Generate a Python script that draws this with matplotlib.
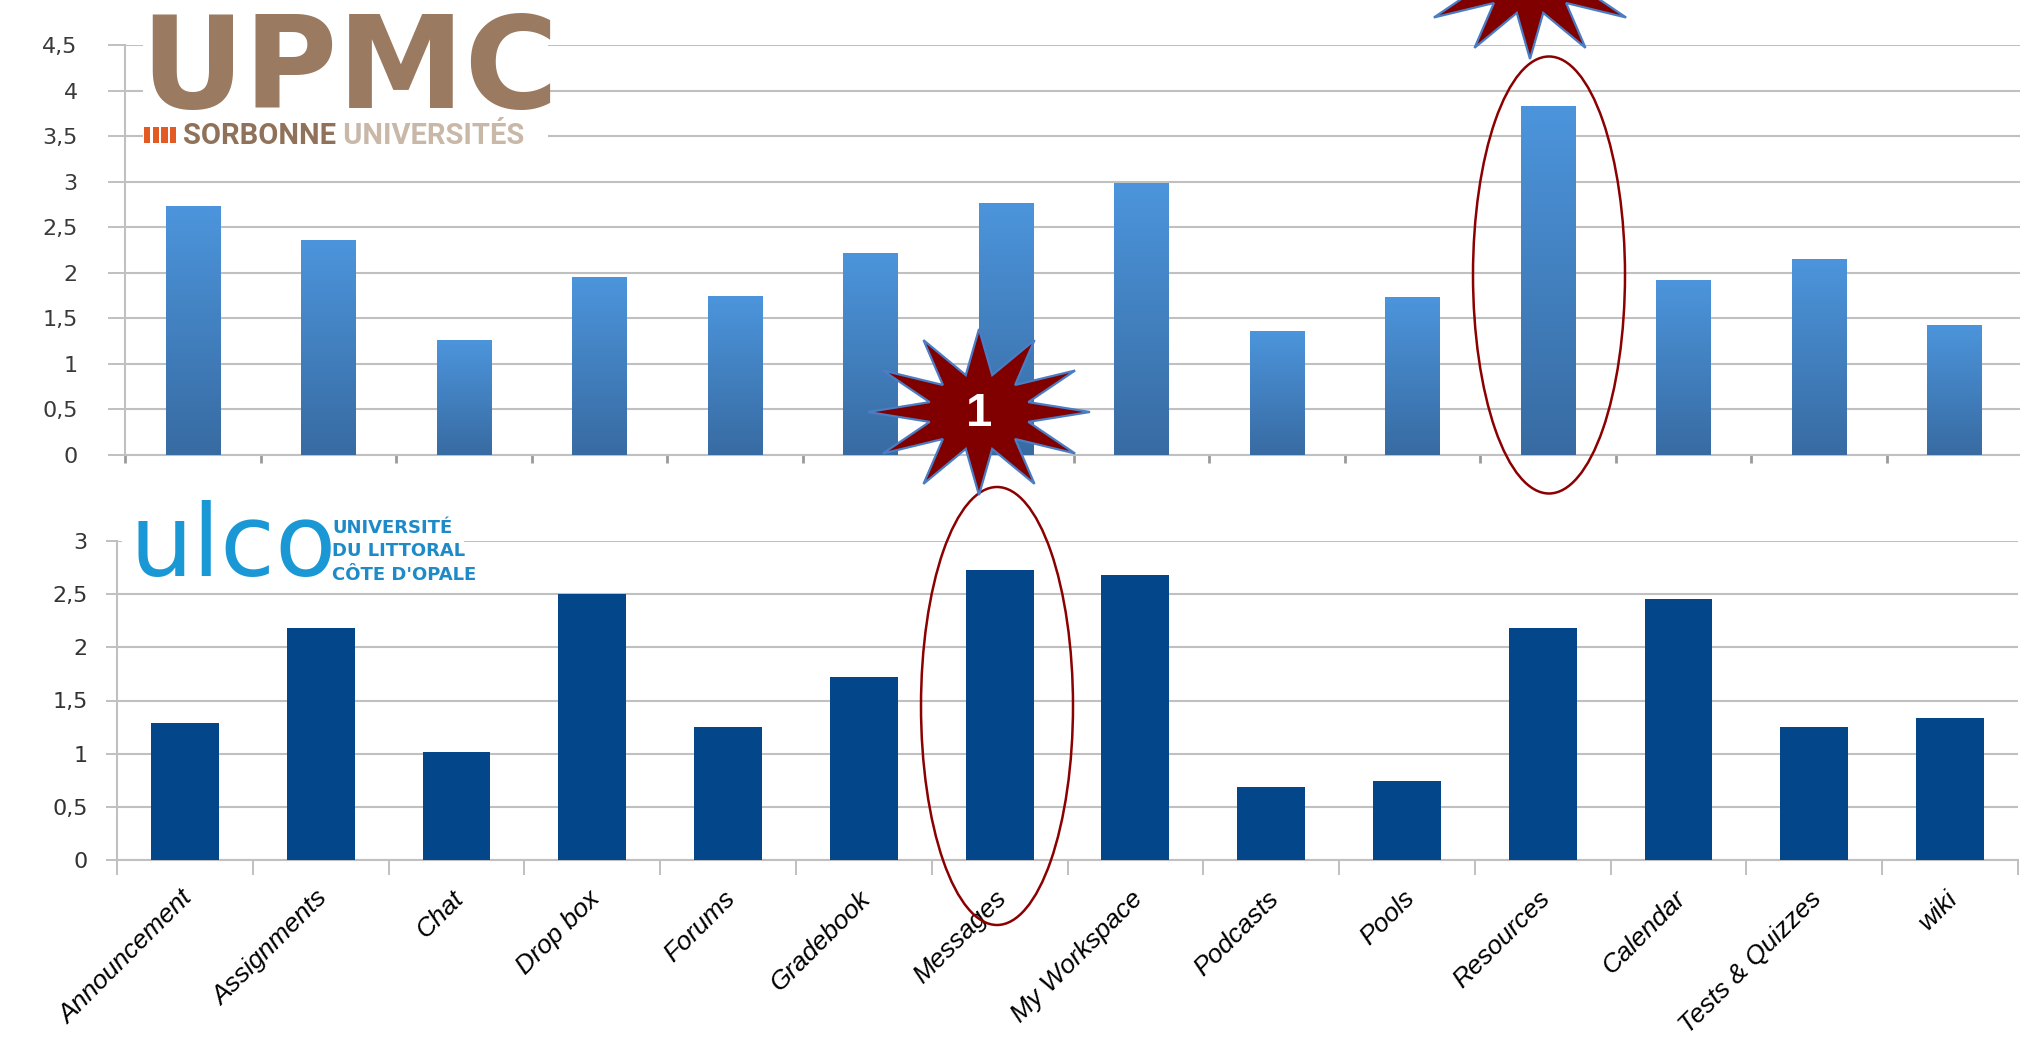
import numpy as np
import matplotlib
matplotlib.use('Agg')
import matplotlib.pyplot as plt
from matplotlib.patches import Ellipse, Polygon, Rectangle
from matplotlib.colors import LinearSegmentedColormap
import matplotlib.transforms as mtransforms

# ---------------- data ----------------
categories = ['Announcement', 'Assignments', 'Chat', 'Drop box', 'Forums', 'Gradebook',
              'Messages', 'My Workspace', 'Podcasts', 'Pools', 'Resources', 'Calendar',
              'Tests & Quizzes', 'wiki']
upmc_values = [2.73, 2.36, 1.26, 1.95, 1.74, 2.22, 2.77, 2.98, 1.36, 1.73, 3.83, 1.92, 2.15, 1.43]
ulco_values = [1.29, 2.18, 1.02, 2.50, 1.25, 1.72, 2.73, 2.68, 0.69, 0.74, 2.18, 2.45, 1.25, 1.34]
upmc_yticks = [0, 0.5, 1, 1.5, 2, 2.5, 3, 3.5, 4, 4.5]
upmc_ytick_labels = ['0', '0,5', '1', '1,5', '2', '2,5', '3', '3,5', '4', '4,5']
ulco_yticks = [0, 0.5, 1, 1.5, 2, 2.5, 3]
ulco_ytick_labels = ['0', '0,5', '1', '1,5', '2', '2,5', '3']

W, H = 2020, 1037
fig = plt.figure(figsize=(W / 100, H / 100), dpi=100)
fig.patch.set_facecolor('white')


def px_axes(l, r, top, bottom):
    return fig.add_axes([l / W, 1 - bottom / H, (r - l) / W, (bottom - top) / H])


GRID = '#c0c0c0'
x = np.arange(len(categories))

# ---------------- top chart (UPMC) ----------------
ax1 = px_axes(125, 2022, 45, 455)
cmap = LinearSegmentedColormap.from_list('g', ['#386ba2', '#4c95dc'])
grad = np.linspace(0, 1, 256).reshape(-1, 1)
bars1 = ax1.bar(x, upmc_values, width=0.4, color='#4281c6', zorder=3)
for b in bars1:
    im = ax1.imshow(grad, extent=(b.get_x(), b.get_x() + b.get_width(), 0, b.get_height()),
                    origin='lower', cmap=cmap, aspect='auto', zorder=4)
    im.set_clip_path(b)
ax1.set_xlim(-0.5, len(categories) - 0.5)
ax1.set_ylim(0, 4.5)
ax1.set_yticks(upmc_yticks, upmc_ytick_labels)
ax1.set_xticks([])
ax1.set_xticks(np.arange(len(categories) + 1) - 0.5, minor=True)
ax1.yaxis.grid(True, color=GRID, lw=1.5)
ax1.set_axisbelow(True)
ax1.tick_params(axis='y', length=12, width=1.4, color=GRID, pad=22, labelsize=16,
                labelcolor='#3a3a3a')
ax1.tick_params(axis='x', which='minor', length=6, width=2, color='#9a9a9a')
for s in ['top', 'right']:
    ax1.spines[s].set_visible(False)
for s in ['left', 'bottom']:
    ax1.spines[s].set_color(GRID)
    ax1.spines[s].set_linewidth(1.5)

# ---------------- bottom chart (ULCO) ----------------
ax2 = px_axes(117, 2018, 541, 860)
ax2.bar(x, ulco_values, width=0.5, color='#03468a', zorder=3)
ax2.set_xlim(-0.5, len(categories) - 0.5)
ax2.set_ylim(0, 3)
ax2.set_yticks(ulco_yticks, ulco_ytick_labels)
ax2.set_xticks(x, categories, rotation=45, ha='right', rotation_mode='anchor',
               fontstyle='italic', fontsize=19, family='Liberation Sans', color='black')
ax2.set_xticks(np.arange(len(categories) + 1) - 0.5, minor=True)
ax2.yaxis.grid(True, color=GRID, lw=1.5)
ax2.set_axisbelow(True)
ax2.tick_params(axis='y', length=8, width=1.4, color=GRID, pad=13, labelsize=16,
                labelcolor='#333333')
ax2.tick_params(axis='x', which='major', length=0, pad=19)
ax2.tick_params(axis='x', which='minor', length=11, width=1.4, color=GRID)
offset = mtransforms.ScaledTranslation(-5 / 100, 0, fig.dpi_scale_trans)
for lab in ax2.get_xticklabels():
    lab.set_transform(lab.get_transform() + offset)
for s in ['top', 'right']:
    ax2.spines[s].set_visible(False)
for s in ['left', 'bottom']:
    ax2.spines[s].set_color(GRID)
    ax2.spines[s].set_linewidth(1.5)

# ---------------- overlay: logos and annotations ----------------
ov = fig.add_axes([0, 0, 1, 1])
ov.set_xlim(0, W)
ov.set_ylim(H, 0)
ov.axis('off')
ov.patch.set_alpha(0)

# UPMC logo
ov.add_patch(Rectangle((143, 0), 405, 165, fc='white', ec='none'))
ov.text(140, 108, 'UPMC', fontsize=92, fontweight='bold', color='#9a7a60',
        family='DejaVu Sans', ha='left', va='baseline')
for i in range(4):
    ov.add_patch(Rectangle((144 + i * 8.6, 127), 6.4, 16, fc='#e35a22', ec='none'))
t1 = ov.text(183, 144, 'SORBONNE', fontsize=21, fontweight='bold', color='#8f7259',
             family='Roboto', ha='left', va='baseline')
ov.annotate(' UNIVERSITÉS', xy=(1, 0), xycoords=t1, fontsize=21, fontweight='bold',
            color='#c9b8a8', family='Roboto', ha='left', va='bottom')

# ULCO logo
ov.add_patch(Rectangle((122, 485), 342, 100, fc='white', ec='none'))
ov.text(130, 576, 'ulco', fontsize=72, color='#1a98d5', family='DejaVu Sans',
        ha='left', va='baseline')
for j, line in enumerate(['UNIVERSITÉ', 'DU LITTORAL', "CÔTE D'OPALE"]):
    ov.text(332, 533 + j * 23.5, line, fontsize=13, fontweight='bold', color='#1e8bc8',
            family='DejaVu Sans', ha='left', va='baseline')

# ellipses
ov.add_patch(Ellipse((1549, 275), 152, 437, fill=False, ec='#8b0000', lw=1.8))
ov.add_patch(Ellipse((997, 706), 152, 438, fill=False, ec='#8b0000', lw=1.8))


def star(cx, cy, rx, ry, n=12, inner=0.46):
    pts = []
    for i in range(2 * n):
        th = i * np.pi / n
        r = 1.0 if i % 2 == 0 else inner
        pts.append((cx + rx * r * np.sin(th), cy - ry * r * np.cos(th)))
    return Polygon(pts, closed=True, fc='#800000', ec='#4a7dc4', lw=1.6)


ov.add_patch(star(979, 412, 111, 83))
ov.add_patch(star(1530, -24, 111, 83))
ov.text(979, 414, '1', fontsize=34, fontweight='bold', color='white',
        family='Liberation Sans', ha='center', va='center')

fig.savefig('out.png', dpi=100, facecolor='white')
